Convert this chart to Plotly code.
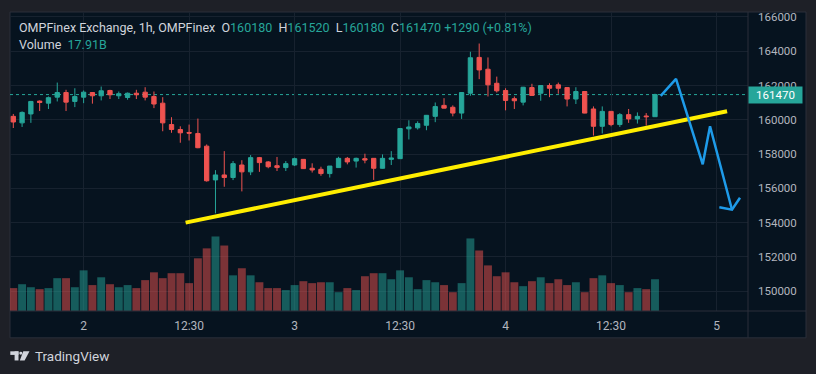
import plotly.graph_objects as go

# ---------------- data ----------------
opens = [160200, 159820, 160340, 161090, 160970, 161320, 161590, 161070, 161320, 161590,
         161400, 161710, 161400, 161300, 161550, 161610, 161360, 160970, 159720, 159430,
         159260, 159200, 158460, 156490, 156780, 156630, 157360, 156960, 157790, 157540,
         157320, 157210, 157360, 157690, 157170, 157110, 156860, 157210, 157750, 157590,
         157730, 157750, 157170, 157690, 157730, 159470, 159530, 159680, 160200, 160840,
         160730, 160390, 161550, 163640, 162950, 162130, 161710, 161230, 161030, 161880,
         161550, 162000, 162040, 161880, 161210, 161650, 160630, 159620, 160490, 159720,
         160300, 160050, 160220, 160180]
highs = [160340, 160490, 161100, 161130, 161360, 162170, 161750, 161840, 161710, 161620,
         161940, 161750, 161650, 161590, 161750, 161900, 161650, 161320, 160150, 159620,
         159720, 160070, 158560, 157060, 158170, 157590, 157640, 157940, 157830, 157590,
         157830, 157590, 157790, 157710, 157460, 157260, 157300, 157840, 157830, 157790,
         158020, 157770, 157980, 158170, 159500, 159970, 159910, 160280, 161010, 161260,
         160840, 161610, 163970, 164450, 163640, 162520, 161840, 161360, 161920, 162100,
         162020, 162130, 162170, 161900, 161900, 161670, 160780, 160780, 160510, 160390,
         160630, 160430, 160390, 161520]
lows = [159520, 159580, 159820, 160510, 160630, 161070, 160510, 160740, 160970, 160940,
        161130, 161210, 161210, 161170, 161210, 161130, 160680, 159330, 159240, 158660,
        158790, 158340, 156390, 154540, 156090, 156480, 155820, 156770, 156960, 157170,
        157010, 157010, 157300, 157130, 156920, 156730, 156630, 157210, 157400, 157210,
        157460, 156490, 157150, 157360, 157710, 158850, 159430, 159390, 159860, 160670,
        160200, 160050, 161400, 162370, 161360, 161590, 160550, 160630, 160840, 161400,
        161110, 161320, 161520, 160780, 160920, 160380, 159080, 159200, 159620, 159580,
        159820, 159780, 159660, 160180]
closes = [159870, 160430, 161070, 161010, 161290, 161590, 161030, 161360, 161610, 161400,
          161690, 161460, 161520, 161550, 161460, 161320, 160920, 159820, 159430, 159240,
          159220, 158370, 156440, 156780, 156630, 157440, 156960, 157790, 157500, 157260,
          157210, 157440, 157730, 157150, 157070, 156860, 157300, 157750, 157540, 157750,
          157650, 157170, 157750, 157770, 159490, 159580, 159780, 160260, 160770, 160680,
          160390, 161590, 163620, 162910, 162040, 161690, 161130, 161110, 161900, 161420,
          162000, 161840, 161840, 161210, 161650, 160390, 159620, 160490, 159720, 160300,
          160050, 160200, 160180, 161470]
volumes_b = [12.9, 15.1, 13.4, 12.3, 12.9, 18.5, 18.5, 13.4, 22.9, 14.6,
             19.0, 15.1, 13.4, 14.6, 12.9, 17.4, 21.8, 18.5, 21.3, 21.3,
             15.7, 29.7, 35.3, 42.0, 36.9, 20.1, 24.1, 20.1, 16.2, 12.9,
             12.9, 11.8, 14.6, 16.8, 15.7, 16.2, 16.2, 10.6, 12.9, 11.8,
             19.6, 21.3, 21.3, 17.9, 22.9, 19.0, 12.3, 17.4, 16.2, 14.6,
             10.6, 15.7, 40.9, 34.1, 25.7, 19.6, 21.8, 16.2, 14.0, 16.8,
             19.0, 15.7, 17.9, 14.6, 16.2, 10.6, 18.5, 20.1, 15.7, 14.6,
             10.6, 12.9, 12.3, 17.91]
x_idx = list(range(len(opens)))

tick_vals = [8, 20, 32, 44, 56, 68, 80]
tick_text = ["2", "12:30", "3", "12:30", "4", "12:30", "5"]
price_ticks = [150000, 152000, 154000, 156000, 158000, 160000, 162000, 164000, 166000]

# drawings (bar index, price)
trend_x = [19.6, 81.2]
trend_y = [154000, 160500]
path_x = [73.65, 75.39, 78.43, 79.26, 81.76]
path_y = [161400, 162390, 157400, 159620, 154750]
arrow_x = [80.32, 81.76, 82.67]
arrow_y = [154890, 154750, 155450]

# ---------------- style ----------------
GREEN = "#26a69a"
RED = "#ef5350"
BG = "#06131f"
OUTER = "#1e2027"
GRID = "#17222f"
BORDER = "#2a2f3a"
TXT = "#d1d4dc"
AX = "#b2b5be"
FONT = "Roboto"

PL, PR, PT, PB = 10, 748, 10, 311
def fx(x):
    return (x - PL) / (PR - PL)
def fy(y):
    return (PB - y) / (PB - PT)

vol_colors = ["rgba(38,166,154,0.5)" if c >= o else "rgba(239,83,80,0.5)"
              for o, c in zip(opens, closes)]

fig = go.Figure()
fig.add_trace(go.Bar(x=x_idx, y=volumes_b, marker=dict(color=vol_colors, line=dict(width=0)),
                     yaxis="y2", hoverinfo="skip", showlegend=False))
fig.add_trace(go.Candlestick(x=x_idx, open=opens, high=highs, low=lows, close=closes,
                             increasing=dict(line=dict(color=GREEN, width=1), fillcolor=GREEN),
                             decreasing=dict(line=dict(color=RED, width=1), fillcolor=RED),
                             whiskerwidth=0, hoverinfo="skip", showlegend=False))
fig.add_trace(go.Scatter(x=trend_x, y=trend_y, mode="lines",
                         line=dict(color="#ffee00", width=4), hoverinfo="skip", showlegend=False))
fig.add_trace(go.Scatter(x=path_x, y=path_y, mode="lines",
                         line=dict(color="#1e9be9", width=2.5), hoverinfo="skip", showlegend=False))
fig.add_trace(go.Scatter(x=arrow_x, y=arrow_y, mode="lines",
                         line=dict(color="#1e9be9", width=2.5), hoverinfo="skip", showlegend=False))

last_o, last_h, last_l, last_c = opens[-1], highs[-1], lows[-1], closes[-1]
prev_c = closes[-2]
chg = last_c - prev_c
pct = chg / prev_c * 100

shapes = [
    dict(type="rect", xref="paper", yref="paper", x0=fx(10), x1=fx(806), y0=fy(338), y1=fy(10),
         fillcolor=BG, line=dict(color=BORDER, width=1), layer="below"),
    dict(type="line", xref="paper", yref="paper", x0=1, x1=1, y0=fy(338), y1=1,
         line=dict(color=BORDER, width=1)),
    dict(type="line", xref="paper", yref="paper", x0=0, x1=fx(806), y0=0, y1=0,
         line=dict(color=BORDER, width=1)),
    dict(type="line", xref="paper", yref="y", x0=0, x1=1, y0=last_c, y1=last_c,
         line=dict(color=GREEN, width=1, dash="dot"), layer="below"),
    # TradingView logo
    dict(type="rect", xref="paper", yref="paper", x0=fx(10.3), x1=fx(18.5), y0=fy(355.2), y1=fy(351.6),
         fillcolor=TXT, line=dict(width=0)),
    dict(type="rect", xref="paper", yref="paper", x0=fx(14.6), x1=fx(18.5), y0=fy(360.8), y1=fy(351.6),
         fillcolor=TXT, line=dict(width=0)),
    dict(type="circle", xref="paper", yref="paper", x0=fx(19.3), x1=fx(22.3), y0=fy(355.0), y1=fy(352.0),
         fillcolor=TXT, line=dict(width=0)),
    dict(type="path", xref="paper", yref="paper",
         path="M {} {} L {} {} L {} {} L {} {} Z".format(fx(23.3), fy(351.6), fx(29.5), fy(351.6),
                                                        fx(24.6), fy(360.8), fx(19.8), fy(360.8)),
         fillcolor=TXT, line=dict(width=0)),
]

def span(t, c):
    return '<span style="color:{}">{}</span>'.format(c, t)

line1 = (span("OMPFinex Exchange, 1h, OMPFinex", TXT) + "&nbsp;&nbsp;"
         + span("O", TXT) + span(str(last_o), GREEN) + "&nbsp;&nbsp;"
         + span("H", TXT) + span(str(last_h), GREEN) + "&nbsp;&nbsp;"
         + span("L", TXT) + span(str(last_l), GREEN) + "&nbsp;&nbsp;"
         + span("C", TXT) + span(str(last_c), GREEN) + "&nbsp;"
         + span("{:+d} ({:+.2f}%)".format(chg, pct), GREEN))
line2 = span("Volume", TXT) + "&nbsp;&nbsp;" + span("{:.2f}B".format(volumes_b[-1]), GREEN)

annotations = [
    dict(xref="paper", yref="paper", x=fx(17), y=fy(25.5), xanchor="left", yanchor="middle",
         text=line1, showarrow=False, font=dict(family=FONT, size=12.5, color=TXT)),
    dict(xref="paper", yref="paper", x=fx(17), y=fy(42.5), xanchor="left", yanchor="middle",
         text=line2, showarrow=False, font=dict(family=FONT, size=12.5, color=TXT)),
    dict(xref="paper", yref="y", x=1, y=last_c, xanchor="left", yanchor="middle",
         text=str(last_c), showarrow=False, bgcolor=GREEN, width=50, height=13, borderpad=1.5,
         font=dict(family=FONT, size=11.5, color="#ffffff")),
    dict(xref="paper", yref="paper", x=fx(33), y=fy(356.3), xanchor="left", yanchor="middle",
         text="TradingView", showarrow=False, font=dict(family=FONT, size=13.5, color=TXT)),
]

fig.update_layout(
    width=816, height=374,
    margin=dict(l=PL, r=816 - PR, t=PT, b=374 - PB),
    paper_bgcolor=OUTER, plot_bgcolor=BG,
    showlegend=False, hovermode=False,
    bargap=0.1,
    shapes=shapes, annotations=annotations,
    xaxis=dict(range=[-0.375, 83.58], tickmode="array", tickvals=tick_vals, ticktext=tick_text,
               showgrid=True, gridcolor=GRID, gridwidth=1, zeroline=False, showline=False,
               ticks="", ticklabelstandoff=6, rangeslider=dict(visible=False),
               tickfont=dict(family=FONT, size=12, color=AX), fixedrange=True),
    yaxis=dict(range=[148840, 166290], side="right", tickmode="array", tickvals=price_ticks,
               ticktext=[str(v) for v in price_ticks],
               showgrid=True, gridcolor=GRID, gridwidth=1, zeroline=False, showline=False,
               ticks="", ticklabelstandoff=9, tickfont=dict(family=FONT, size=11.5, color=AX),
               fixedrange=True),
    yaxis2=dict(range=[0, 168.5], overlaying="y", visible=False, fixedrange=True),
)

fig.write_html("out.html", config={"displayModeBar": False, "staticPlot": True},
               post_script="document.body.style.margin='0';document.body.style.overflow='hidden';")
